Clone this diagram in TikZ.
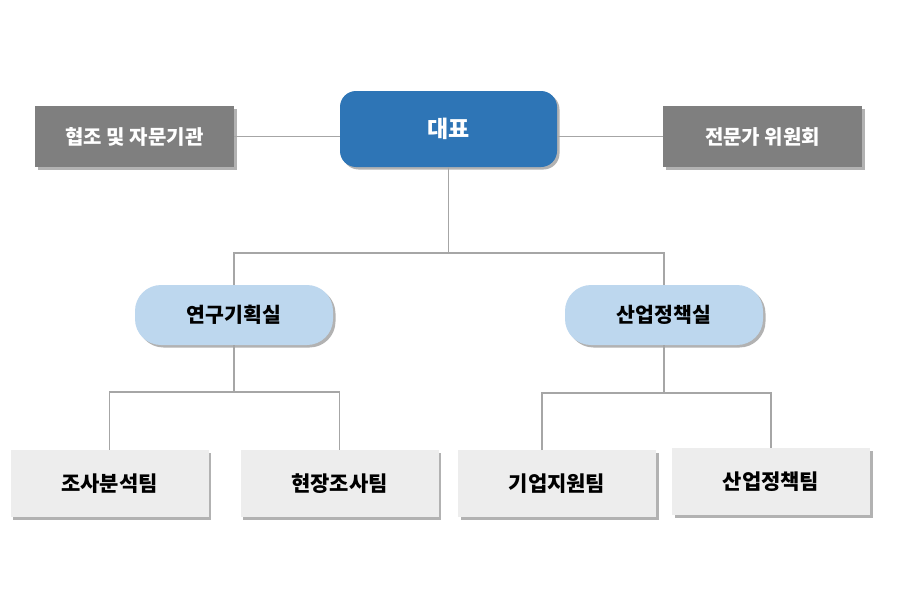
\documentclass[tikz,border=0pt]{standalone}
\usepackage{fontspec}
\newfontfamily\kr{Noto Sans CJK KR}
\usetikzlibrary{shadows}
\definecolor{ceoblue}{HTML}{2E75B6}
\definecolor{midblue}{HTML}{BDD7EE}
\definecolor{boxgray}{HTML}{7F7F7F}
\definecolor{teamgray}{HTML}{EDEDED}
\definecolor{linegray}{HTML}{A6A6A6}
\tikzset{
  shd/.style={drop shadow={shadow xshift=2.5pt, shadow yshift=-2.5pt, fill=black, opacity=0.3}},
  ceo/.style={shd, fill=ceoblue, rounded corners=16pt, minimum width=217pt, minimum height=76pt,
     inner sep=0pt, text=white, font=\kr\bfseries\fontsize{23}{26}\selectfont},
  side/.style={shd, fill=boxgray, minimum width=199pt, minimum height=61pt,
     inner sep=0pt, text=white, font=\kr\bfseries\fontsize{20}{24}\selectfont},
  dept/.style={shd, fill=midblue, rounded corners=26pt, minimum width=198pt, minimum height=60pt,
     inner sep=0pt, text=black, font=\kr\bfseries\fontsize{20.5}{24}\selectfont},
  team/.style={shd, fill=teamgray, minimum width=198pt, minimum height=67pt,
     inner sep=0pt, text=black, font=\kr\bfseries\fontsize{21}{24}\selectfont},
  conn/.style={draw=linegray, line width=1.2pt},
}
\begin{document}
\begin{tikzpicture}[x=1pt,y=-1pt]
\useasboundingbox[fill=white] (0,0) rectangle (900,589);
% nodes
\node[ceo]  (ceo)  at (448.5,129) {대표};
\node[side] (coop) at (134.5,136.5) {협조 및 자문기관};
\node[side] (comm) at (762.5,136.5) {전문가 위원회};
\node[dept] (rnd)  at (234,315) {연구기획실};
\node[dept] (ind)  at (664,315) {산업정책실};
\node[team] (t1) at (109.5,483.5) {조사분석팀};
\node[team] (t2) at (339.5,483.5) {현장조사팀};
\node[team] (t3) at (557,483.5) {기업지원팀};
\node[team] (t4) at (771,481.5) {산업정책팀};
% connectors
\coordinate (j0) at (448.5,253);
\coordinate (j1) at (234,392);
\coordinate (j2) at (664,393);
\coordinate (t3top) at (542,450);
\begin{scope}[on background layer/.try]
\draw[conn] (coop.east) -- (ceo.west |- coop.east);
\draw[conn] (comm.west) -- (ceo.east |- comm.west);
\draw[conn] (ceo.south) -- (j0);
\draw[conn] (rnd.north) |- (j0) -| (ind.north);
\draw[conn] (rnd.south) -- (j1);
\draw[conn] (t1.north) |- (j1) -| (t2.north);
\draw[conn] (ind.south) -- (j2);
\draw[conn] (t3top) |- (j2) -| (t4.north);
\end{scope}
\end{tikzpicture}
\end{document}
